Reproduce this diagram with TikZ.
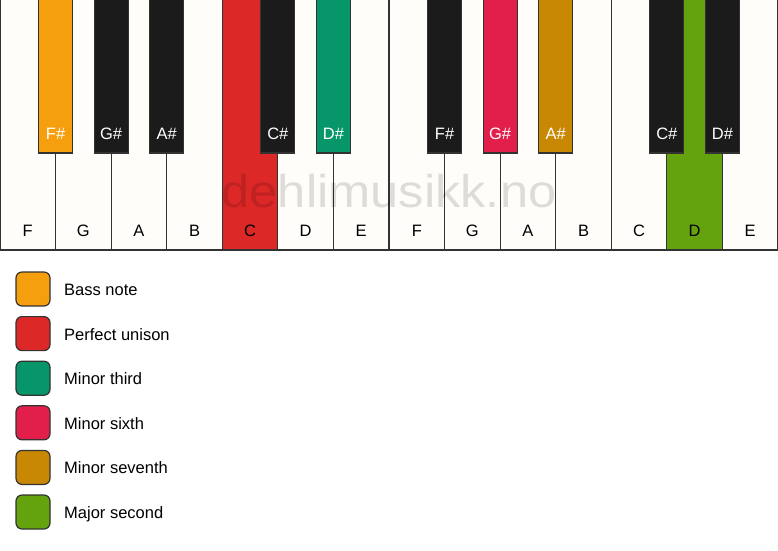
\documentclass[tikz,border=0pt]{standalone}
\usepackage{fontspec}
\setmainfont{Liberation Sans}
\usepackage{tikz}
\usetikzlibrary{positioning, calc}

\definecolor{keywhite}{HTML}{FEFDFA}
\definecolor{keyblack}{HTML}{1B1B1B}
\definecolor{keyedge}{HTML}{333333}
\definecolor{bassnote}{HTML}{F59E0E}
\definecolor{unison}{HTML}{DD2828}
\definecolor{minthird}{HTML}{07966A}
\definecolor{minsixth}{HTML}{E21F4B}
\definecolor{minseventh}{HTML}{C98804}
\definecolor{majsecond}{HTML}{64A30D}

\tikzset{
  keyline/.style={draw=keyedge, line width=1.2pt},
  whitekey/.style={keyline, fill=keywhite},
  blackkey/.style={keyline, fill=keyblack},
  keyfont/.style={font=\fontsize{16.5}{19}\selectfont},
  keylabel/.style={keyfont, inner sep=0pt, anchor=base},
  swatch/.style={draw=keyedge, line width=1.2pt, rounded corners=6pt,
    minimum size=34pt, inner sep=0pt, outer sep=0pt},
  legendtext/.style={keyfont, inner sep=0pt, anchor=base west}
}

\begin{document}
\begin{tikzpicture}[x=1pt, y=-1pt]
	\def\kw{55.5714}
	\def\bw{34}
	\def\bh{153}
	\def\kh{250}

	\useasboundingbox (0,0) rectangle (778,550);
	\fill[white] (0,0) rectangle (778,550);

	% white keys
	\foreach \i/\name/\col in {0/F/keywhite, 1/G/keywhite, 2/A/keywhite, 3/B/keywhite,
	    4/C/unison, 5/D/keywhite, 6/E/keywhite, 7/F/keywhite, 8/G/keywhite,
	    9/A/keywhite, 10/B/keywhite, 11/C/keywhite, 12/D/majsecond, 13/E/keywhite}{
		\draw[whitekey, fill=\col] (\i*\kw, -2) rectangle ++(\kw, \kh+2);
		\node[keylabel] (w\i) at (\i*\kw+0.5*\kw, 236) {\name};
	}
	\draw[keyedge, line width=2pt] (0,\kh) -- (778,\kh);

	% watermark
	\node[font=\fontsize{46}{50}\selectfont, text=black, opacity=0.13,
	      inner sep=0pt, anchor=base, xscale=1.1] (mark) at (389,207) {dehlimusikk.no};

	% black keys
	\foreach \i/\name/\col in {1/F\#/bassnote, 2/G\#/keyblack, 3/A\#/keyblack,
	    5/C\#/keyblack, 6/D\#/minthird, 8/F\#/keyblack, 9/G\#/minsixth,
	    10/A\#/minseventh, 12/C\#/keyblack, 13/D\#/keyblack}{
		\draw[blackkey, fill=\col] (\i*\kw-0.5*\bw, -2) rectangle ++(\bw, \bh+2);
		\node[keylabel, text=white] (b\i) at (\i*\kw, 139) {\name};
	}

	% legend
	\node[swatch, fill=bassnote] (bass) at (33,289) {};
	\node[swatch, fill=unison, below=10.6pt of bass] (unis) {};
	\node[swatch, fill=minthird, below=10.6pt of unis] (third) {};
	\node[swatch, fill=minsixth, below=10.6pt of third] (sixth) {};
	\node[swatch, fill=minseventh, below=10.6pt of sixth] (seventh) {};
	\node[swatch, fill=majsecond, below=10.6pt of seventh] (second) {};

	\node[legendtext] (basstext) at ([xshift=14pt, yshift=-6.5pt]bass.east) {Bass note};
	\node[legendtext] (unistext) at ([xshift=14pt, yshift=-6.5pt]unis.east) {Perfect unison};
	\node[legendtext] (thirdtext) at ([xshift=14pt, yshift=-6.5pt]third.east) {Minor third};
	\node[legendtext] (sixthtext) at ([xshift=14pt, yshift=-6.5pt]sixth.east) {Minor sixth};
	\node[legendtext] (seventhtext) at ([xshift=14pt, yshift=-6.5pt]seventh.east) {Minor seventh};
	\node[legendtext] (secondtext) at ([xshift=14pt, yshift=-6.5pt]second.east) {Major second};
\end{tikzpicture}
\end{document}
